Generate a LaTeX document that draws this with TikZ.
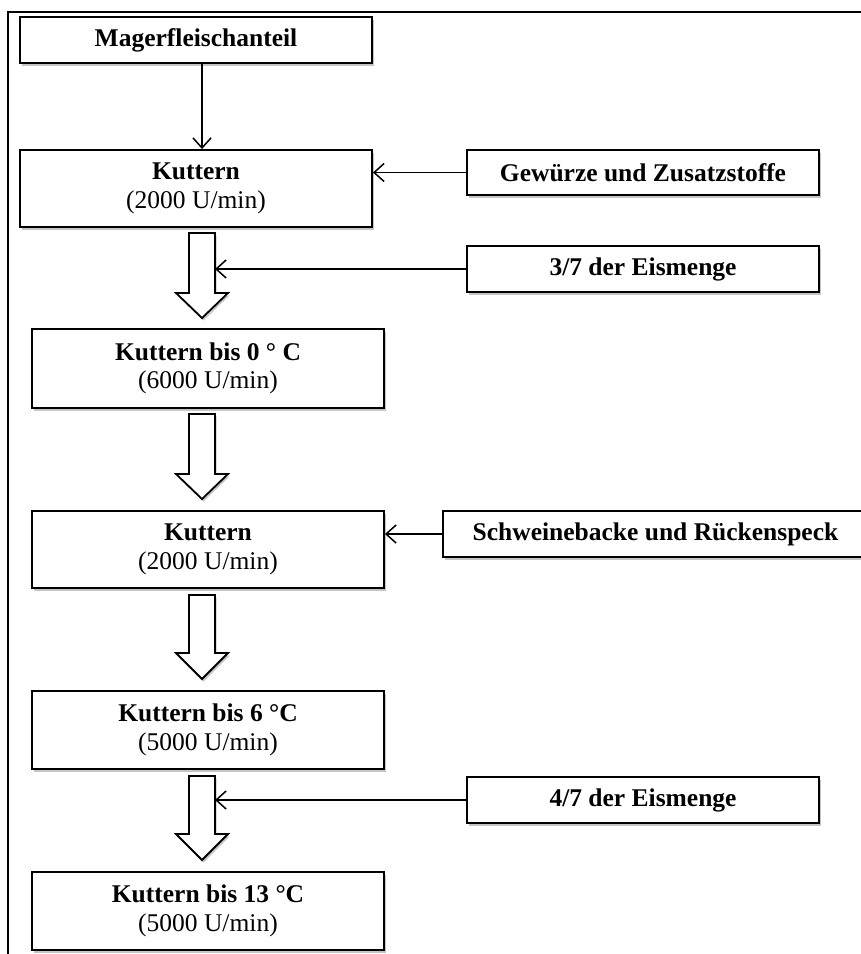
\documentclass[tikz,border=0pt]{standalone}
\usepackage{fontspec}
\setmainfont{Liberation Serif}
\usetikzlibrary{arrows.meta,shadows}

% hollow block arrow pointing down: top of shaft, start of head, tip
\newcommand{\flowarrow}[3]{%
  \draw[blockarrow] (189,#1) -- (215,#1) -- (215,#2) -- (228,#2) -- (202,#3)
    -- (176,#2) -- (189,#2) -- cycle;}

\begin{document}
\begin{tikzpicture}[x=1pt,y=-1pt,
  softshadow/.style={drop shadow={shadow xshift=1.5pt, shadow yshift=-2.5pt,
      fill=black!45, opacity=0.5}},
  box/.style={draw, line width=1.9pt, fill=white, minimum width=352pt,
      inner sep=0pt, align=center, softshadow,
      font=\fontsize{25.5}{28.5}\selectfont},
  blockarrow/.style={draw, line width=1.8pt, fill=white, line join=miter, softshadow},
  conn/.style={line width=1.5pt,
      -{Straight Barb[length=10pt,width=18pt,line width=1.5pt]}}
]
\useasboundingbox (0,0) rectangle (861,954);
\clip (0,0) rectangle (861,954);

% outer frame (runs past the page on the right and bottom)
\draw[line width=2.8pt] (8,980) -- (8,12) -- (890,12);

% reference columns for the main flow
\coordinate (col) at (202,0);
\coordinate (shaft) at (215,0);

% main process steps
\node[box, minimum height=46pt] (mager) at (196,40) {\textbf{Magerfleischanteil}};
\node[box, minimum height=77pt] (k1) at (196,188.5) {\textbf{Kuttern}\\(2000 U/min)};
\node[box, minimum height=79pt] (k2) at (208,368.5) {\textbf{Kuttern bis 0 ° C}\\(6000 U/min)};
\node[box, minimum height=77pt] (k3) at (208,549.5) {\textbf{Kuttern}\\(2000 U/min)};
\node[box, minimum height=78pt] (k4) at (208,730) {\textbf{Kuttern bis 6 °C}\\(5000 U/min)};
\node[box, minimum height=78pt] (k5) at (208,911) {\textbf{Kuttern bis 13 °C}\\(5000 U/min)};

% added ingredients
\node[box, minimum height=45pt] (gew) at (643,172.5) {\textbf{Gewürze und Zusatzstoffe}};
\node[box, minimum height=46pt] (eis1) at (643,269) {\textbf{3/7 der Eismenge}};
\node[box, minimum height=46pt, minimum width=425pt] (spk) at (655.5,534) {\textbf{Schweinebacke und Rückenspeck}};
\node[box, minimum height=46pt] (eis2) at (643,800) {\textbf{4/7 der Eismenge}};

% transitions between the steps
\flowarrow{233}{293}{318}
\flowarrow{414}{474}{499}
\flowarrow{595}{653}{679}
\flowarrow{776}{834}{860}

% feed lines
\draw[conn] (mager.south -| col) -- (k1.north -| col);
\draw[conn] (gew.west) -- (gew.west -| k1.east);
\draw[conn] (eis1.west) -- (eis1.west -| shaft);
\draw[conn] (spk.west) -- (spk.west -| k3.east);
\draw[conn] (eis2.west) -- (eis2.west -| shaft);
\end{tikzpicture}
\end{document}
